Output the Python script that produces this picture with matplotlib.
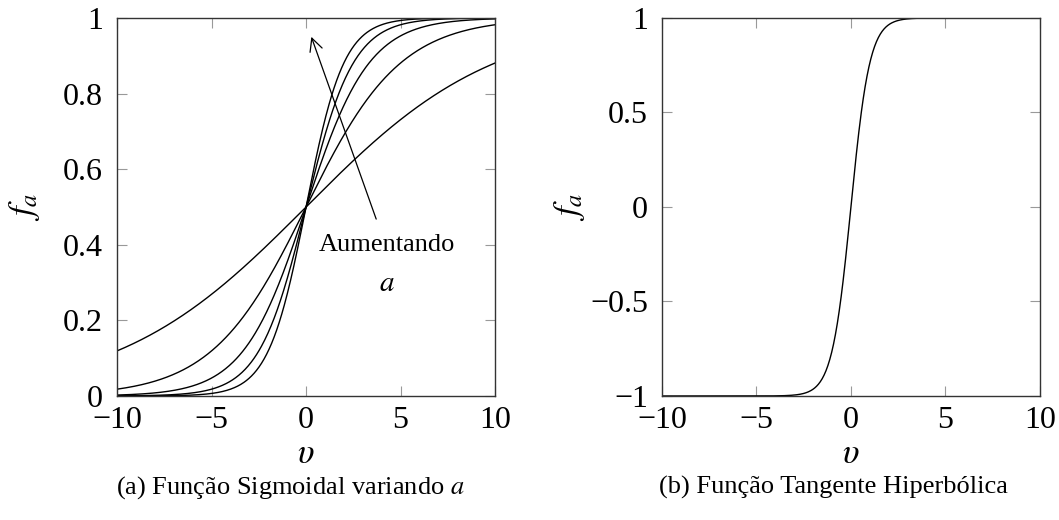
import numpy as np
import matplotlib.pyplot as plt

plt.rcParams['font.family'] = ['Liberation Serif', 'DejaVu Serif']
plt.rcParams['mathtext.fontset'] = 'stix'
plt.rcParams['font.size'] = 23

# slope values of the sigmoid curves
a_values = [0.2, 0.4, 0.6, 0.8, 1.0]
v_range = [-10, 10]
left_yticks = [0, 0.2, 0.4, 0.6, 0.8, 1]
left_yticklabels = ['0', '0.2', '0.4', '0.6', '0.8', '1']
right_yticks = [-1, -0.5, 0, 0.5, 1]
right_yticklabels = ['\u22121', '\u22120.5', '0', '0.5', '1']
xticks = [-10, -5, 0, 5, 10]
xticklabels = ['\u221210', '\u22125', '0', '5', '10']

v = np.linspace(v_range[0], v_range[1], 600)

fig = plt.figure(figsize=(10.59, 5.2), dpi=100)
ax1 = fig.add_axes([0.1105, 0.2385, 0.357, 0.727])
ax2 = fig.add_axes([0.625, 0.2385, 0.357, 0.727])


def style_axes(ax, yticks, yticklabels, ylim):
    ax.set_xlim(v_range)
    ax.set_ylim(ylim)
    ax.set_xticks(xticks)
    ax.set_xticklabels(xticklabels)
    ax.set_yticks(yticks)
    ax.set_yticklabels(yticklabels)
    ax.tick_params(direction='in', length=7, width=0.8, color='#999999',
                   top=True, right=True)
    ax.tick_params(axis='x', pad=7.5)
    ax.tick_params(axis='y', pad=10)
    for s in ax.spines.values():
        s.set_linewidth(1.0)
        s.set_color('#333333')
    ax.set_xlabel(r'$\upsilon$', fontsize=25, va='center')
    ax.xaxis.set_label_coords(0.5, -0.155)
    ax.set_ylabel(r'$f_a$', fontsize=25, va='center')
    ax.yaxis.set_label_coords(-0.245, 0.5)


# (a) sigmoid for several a
for a in a_values:
    ax1.plot(v, 1 / (1 + np.exp(-a * v)), color='black', lw=1.0)
style_axes(ax1, left_yticks, left_yticklabels, (0, 1))
ax1.annotate('', xy=(0.23, 0.957), xytext=(3.76, 0.461),
             arrowprops=dict(arrowstyle='->', color='black', lw=0.9))
ax1.text(4.27, 0.40, 'Aumentando', ha='center', va='center', fontsize=19)
ax1.text(4.27, 0.295, r'$a$', ha='center', va='center', fontsize=21)

# (b) hyperbolic tangent
ax2.plot(v, np.tanh(v), color='black', lw=1.0)
style_axes(ax2, right_yticks, right_yticklabels, (-1, 1))

fig.text(0.274, 0.063, r'(a) Função Sigmoidal variando $a$', ha='center',
         va='center', fontsize=19)
fig.text(0.787, 0.063, '(b) Função Tangente Hiperbólica', ha='center',
         va='center', fontsize=19)

fig.savefig('out.png', dpi=100)
